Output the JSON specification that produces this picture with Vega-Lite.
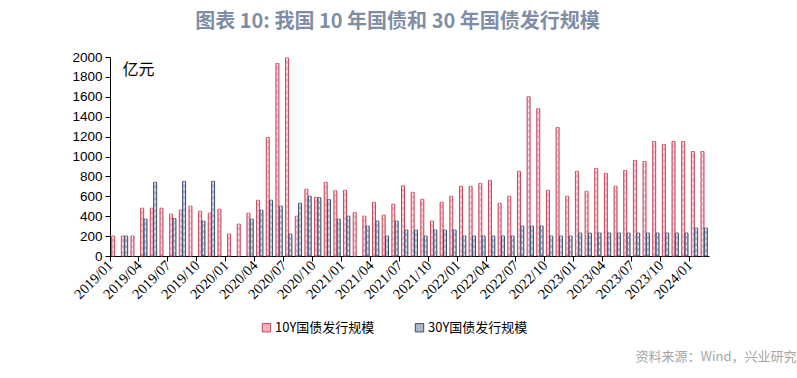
{
  "$schema": "https://vega.github.io/schema/vega-lite/v6.json",
  "autosize": {"type": "none"},
  "width": 599,
  "height": 199,
  "padding": {"left": 110, "top": 57, "right": 88, "bottom": 122},
  "background": "white",
  "title": {
    "text": "图表 10: 我国 10 年国债和 30 年国债发行规模",
    "font": "Noto Sans CJK SC",
    "fontSize": 20,
    "fontWeight": "bold",
    "color": "#7f8ea6",
    "anchor": "middle",
    "frame": "group",
    "dx": -12,
    "offset": 18
  },
  "config": {
    "view": {"stroke": null},
    "axis": {"grid": false}
  },
  "data": {
    "values": [
      {"m": "2019/01", "s": "10Y国债发行规模", "v": 200},
      {"m": "2019/02", "s": "10Y国债发行规模", "v": 200},
      {"m": "2019/03", "s": "10Y国债发行规模", "v": 200},
      {"m": "2019/04", "s": "10Y国债发行规模", "v": 480},
      {"m": "2019/05", "s": "10Y国债发行规模", "v": 480},
      {"m": "2019/06", "s": "10Y国债发行规模", "v": 480},
      {"m": "2019/07", "s": "10Y国债发行规模", "v": 420},
      {"m": "2019/08", "s": "10Y国债发行规模", "v": 460},
      {"m": "2019/09", "s": "10Y国债发行规模", "v": 500},
      {"m": "2019/10", "s": "10Y国债发行规模", "v": 450},
      {"m": "2019/11", "s": "10Y国债发行规模", "v": 430},
      {"m": "2019/12", "s": "10Y国债发行规模", "v": 470},
      {"m": "2020/01", "s": "10Y国债发行规模", "v": 220},
      {"m": "2020/02", "s": "10Y国债发行规模", "v": 320},
      {"m": "2020/03", "s": "10Y国债发行规模", "v": 430},
      {"m": "2020/04", "s": "10Y国债发行规模", "v": 560},
      {"m": "2020/05", "s": "10Y国债发行规模", "v": 1190},
      {"m": "2020/06", "s": "10Y国债发行规模", "v": 1935},
      {"m": "2020/07", "s": "10Y国债发行规模", "v": 1990},
      {"m": "2020/08", "s": "10Y国债发行规模", "v": 400},
      {"m": "2020/09", "s": "10Y国债发行规模", "v": 670},
      {"m": "2020/10", "s": "10Y国债发行规模", "v": 590},
      {"m": "2020/11", "s": "10Y国债发行规模", "v": 740},
      {"m": "2020/12", "s": "10Y国债发行规模", "v": 655},
      {"m": "2021/01", "s": "10Y国债发行规模", "v": 660},
      {"m": "2021/02", "s": "10Y国债发行规模", "v": 435},
      {"m": "2021/03", "s": "10Y国债发行规模", "v": 400},
      {"m": "2021/04", "s": "10Y国债发行规模", "v": 540},
      {"m": "2021/05", "s": "10Y国债发行规模", "v": 410},
      {"m": "2021/06", "s": "10Y国债发行规模", "v": 520},
      {"m": "2021/07", "s": "10Y国债发行规模", "v": 705},
      {"m": "2021/08", "s": "10Y国债发行规模", "v": 640},
      {"m": "2021/09", "s": "10Y国债发行规模", "v": 570},
      {"m": "2021/10", "s": "10Y国债发行规模", "v": 350},
      {"m": "2021/11", "s": "10Y国债发行规模", "v": 540},
      {"m": "2021/12", "s": "10Y国债发行规模", "v": 600},
      {"m": "2022/01", "s": "10Y国债发行规模", "v": 700},
      {"m": "2022/02", "s": "10Y国债发行规模", "v": 700},
      {"m": "2022/03", "s": "10Y国债发行规模", "v": 730},
      {"m": "2022/04", "s": "10Y国债发行规模", "v": 760},
      {"m": "2022/05", "s": "10Y国债发行规模", "v": 530},
      {"m": "2022/06", "s": "10Y国债发行规模", "v": 600},
      {"m": "2022/07", "s": "10Y国债发行规模", "v": 850},
      {"m": "2022/08", "s": "10Y国债发行规模", "v": 1600},
      {"m": "2022/09", "s": "10Y国债发行规模", "v": 1480},
      {"m": "2022/10", "s": "10Y国债发行规模", "v": 660},
      {"m": "2022/11", "s": "10Y国债发行规模", "v": 1290},
      {"m": "2022/12", "s": "10Y国债发行规模", "v": 600},
      {"m": "2023/01", "s": "10Y国债发行规模", "v": 850},
      {"m": "2023/02", "s": "10Y国债发行规模", "v": 650},
      {"m": "2023/03", "s": "10Y国债发行规模", "v": 880},
      {"m": "2023/04", "s": "10Y国债发行规模", "v": 830},
      {"m": "2023/05", "s": "10Y国债发行规模", "v": 700},
      {"m": "2023/06", "s": "10Y国债发行规模", "v": 860},
      {"m": "2023/07", "s": "10Y国债发行规模", "v": 960},
      {"m": "2023/08", "s": "10Y国债发行规模", "v": 950},
      {"m": "2023/09", "s": "10Y国债发行规模", "v": 1150},
      {"m": "2023/10", "s": "10Y国债发行规模", "v": 1120},
      {"m": "2023/11", "s": "10Y国债发行规模", "v": 1150},
      {"m": "2023/12", "s": "10Y国债发行规模", "v": 1150},
      {"m": "2024/01", "s": "10Y国债发行规模", "v": 1050},
      {"m": "2024/02", "s": "10Y国债发行规模", "v": 1050},
      {"m": "2019/02", "s": "30Y国债发行规模", "v": 200},
      {"m": "2019/04", "s": "30Y国债发行规模", "v": 370},
      {"m": "2019/05", "s": "30Y国债发行规模", "v": 740},
      {"m": "2019/07", "s": "30Y国债发行规模", "v": 375},
      {"m": "2019/08", "s": "30Y国债发行规模", "v": 750},
      {"m": "2019/10", "s": "30Y国债发行规模", "v": 350},
      {"m": "2019/11", "s": "30Y国债发行规模", "v": 750},
      {"m": "2020/03", "s": "30Y国债发行规模", "v": 370},
      {"m": "2020/04", "s": "30Y国债发行规模", "v": 460},
      {"m": "2020/05", "s": "30Y国债发行规模", "v": 560},
      {"m": "2020/06", "s": "30Y国债发行规模", "v": 500},
      {"m": "2020/07", "s": "30Y国债发行规模", "v": 220},
      {"m": "2020/08", "s": "30Y国债发行规模", "v": 530},
      {"m": "2020/09", "s": "30Y国债发行规模", "v": 600},
      {"m": "2020/10", "s": "30Y国债发行规模", "v": 585},
      {"m": "2020/11", "s": "30Y国债发行规模", "v": 565},
      {"m": "2020/12", "s": "30Y国债发行规模", "v": 370},
      {"m": "2021/01", "s": "30Y国债发行规模", "v": 400},
      {"m": "2021/03", "s": "30Y国债发行规模", "v": 300},
      {"m": "2021/04", "s": "30Y国债发行规模", "v": 350},
      {"m": "2021/05", "s": "30Y国债发行规模", "v": 200},
      {"m": "2021/06", "s": "30Y国债发行规模", "v": 350},
      {"m": "2021/07", "s": "30Y国债发行规模", "v": 260},
      {"m": "2021/08", "s": "30Y国债发行规模", "v": 260},
      {"m": "2021/09", "s": "30Y国债发行规模", "v": 200},
      {"m": "2021/10", "s": "30Y国债发行规模", "v": 260},
      {"m": "2021/11", "s": "30Y国债发行规模", "v": 260},
      {"m": "2021/12", "s": "30Y国债发行规模", "v": 260},
      {"m": "2022/01", "s": "30Y国债发行规模", "v": 200},
      {"m": "2022/02", "s": "30Y国债发行规模", "v": 200},
      {"m": "2022/03", "s": "30Y国债发行规模", "v": 200},
      {"m": "2022/04", "s": "30Y国债发行规模", "v": 200},
      {"m": "2022/05", "s": "30Y国债发行规模", "v": 200},
      {"m": "2022/06", "s": "30Y国债发行规模", "v": 200},
      {"m": "2022/07", "s": "30Y国债发行规模", "v": 300},
      {"m": "2022/08", "s": "30Y国债发行规模", "v": 300},
      {"m": "2022/09", "s": "30Y国债发行规模", "v": 300},
      {"m": "2022/10", "s": "30Y国债发行规模", "v": 200},
      {"m": "2022/11", "s": "30Y国债发行规模", "v": 200},
      {"m": "2022/12", "s": "30Y国债发行规模", "v": 200},
      {"m": "2023/01", "s": "30Y国债发行规模", "v": 230},
      {"m": "2023/02", "s": "30Y国债发行规模", "v": 230},
      {"m": "2023/03", "s": "30Y国债发行规模", "v": 230},
      {"m": "2023/04", "s": "30Y国债发行规模", "v": 230},
      {"m": "2023/05", "s": "30Y国债发行规模", "v": 230},
      {"m": "2023/06", "s": "30Y国债发行规模", "v": 230},
      {"m": "2023/07", "s": "30Y国债发行规模", "v": 230},
      {"m": "2023/08", "s": "30Y国债发行规模", "v": 230},
      {"m": "2023/09", "s": "30Y国债发行规模", "v": 230},
      {"m": "2023/10", "s": "30Y国债发行规模", "v": 230},
      {"m": "2023/11", "s": "30Y国债发行规模", "v": 230},
      {"m": "2023/12", "s": "30Y国债发行规模", "v": 230},
      {"m": "2024/01", "s": "30Y国债发行规模", "v": 280},
      {"m": "2024/02", "s": "30Y国债发行规模", "v": 280}
    ]
  },
  "encoding": {
    "x": {
      "field": "m",
      "type": "ordinal",
      "sort": "ascending",
      "scale": {"paddingInner": 0, "paddingOuter": 0},
      "axis": {
        "values": ["2019/01","2019/04","2019/07","2019/10","2020/01","2020/04","2020/07","2020/10","2021/01","2021/04","2021/07","2021/10","2022/01","2022/04","2022/07","2022/10","2023/01","2023/04","2023/07","2023/10","2024/01"],
        "bandPosition": 0,
        "labelAngle": -45,
        "labelAlign": "right",
        "labelBaseline": "middle",
        "labelFont": "Liberation Serif",
        "labelFontSize": 14.5,
        "labelColor": "#000000",
        "labelPadding": 2,
        "labelOverlap": false,
        "labelOffset": -4,
        "tickSize": 5,
        "tickColor": "#000000",
        "domainColor": "#000000",
        "title": "资料来源：Wind，兴业研究",
        "titleFont": "Noto Sans CJK SC",
        "titleFontSize": 13,
        "titleFontWeight": "normal",
        "titleColor": "#a6a6a6",
        "titleAlign": "right",
        "titleAnchor": null,
        "titleX": 686,
        "titleY": 100,
        "titleBaseline": "middle"
      }
    },
    "xOffset": {
      "field": "s",
      "type": "nominal",
      "scale": {"paddingOuter": 0.5, "paddingInner": 0.1}
    },
    "y": {
      "field": "v",
      "type": "quantitative",
      "scale": {"domain": [0, 2000]},
      "axis": {
        "values": [0,200,400,600,800,1000,1200,1400,1600,1800,2000],
        "format": "d",
        "labelFont": "Liberation Sans",
        "labelFontSize": 13.5,
        "labelColor": "#000000",
        "tickSize": 5,
        "tickColor": "#000000",
        "domainColor": "#000000",
        "labelPadding": 3,
        "title": "亿元",
        "titleAngle": 0,
        "titleFont": "Noto Sans CJK SC",
        "titleFontSize": 16,
        "titleFontWeight": "normal",
        "titleColor": "#000000",
        "titleAlign": "left",
        "titleBaseline": "middle",
        "titleX": 12,
        "titleY": 12
      }
    }
  },
  "layer": [
    {
      "mark": {"type": "bar", "strokeWidth": 1},
      "encoding": {
        "fill": {
          "field": "s",
          "type": "nominal",
          "scale": {"domain": ["10Y国债发行规模", "30Y国债发行规模"], "range": ["#eeb4bd", "#aeb7cc"]},
          "legend": {
            "title": null,
            "orient": "none",
            "legendX": 150,
            "legendY": 264,
            "direction": "horizontal",
            "symbolType": "square",
            "symbolSize": 70,
            "symbolStrokeWidth": 1,
            "labelFont": "Noto Sans CJK SC",
            "labelFontSize": 13,
            "labelColor": "#000000",
            "labelOffset": 2,
            "columnPadding": 38
          }
        },
        "stroke": {
          "field": "s",
          "type": "nominal",
          "scale": {"domain": ["10Y国债发行规模", "30Y国债发行规模"], "range": ["#c4465d", "#3e4a6e"]},
          "legend": null
        }
      }
    },
    {
      "mark": {"type": "rule", "color": "#ffffff", "strokeWidth": 1, "strokeDash": [3, 3], "opacity": 0.9},
      "encoding": {
        "y2": {"datum": 0}
      }
    }
  ]
}
